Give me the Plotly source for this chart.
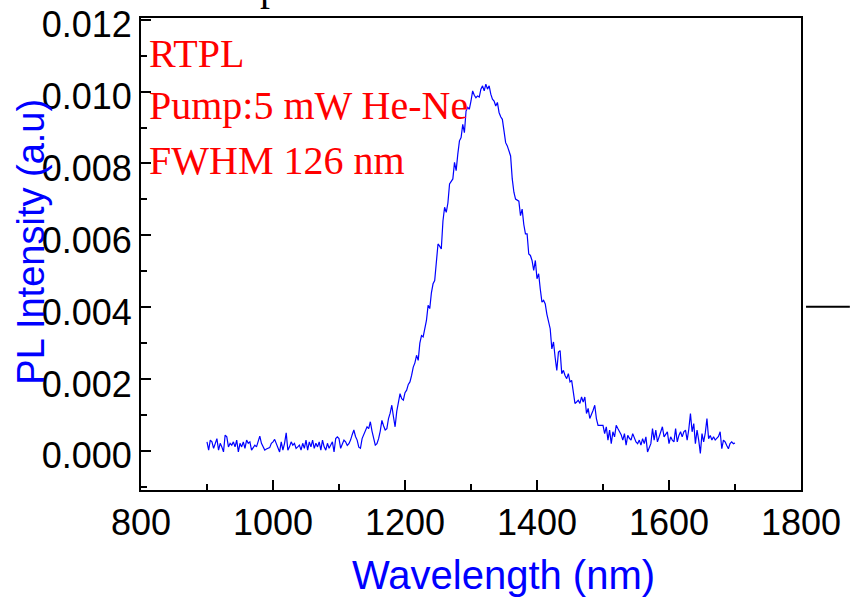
import plotly.graph_objects as go

# Wavelength samples (nm)
wavelength = [
    900, 902.5, 905, 907.5, 910, 912.5, 915, 917.5, 920, 922.5,
    925, 927.5, 930, 932.5, 935, 937.5, 940, 942.5, 945, 947.5,
    950, 952.5, 955, 957.5, 960, 962.5, 965, 967.5, 970, 972.5,
    975, 977.5, 980, 982.5, 985, 987.5, 990, 992.5, 995, 997.5,
    1000, 1002.5, 1005, 1007.5, 1010, 1012.5, 1015, 1017.5, 1020, 1022.5,
    1025, 1027.5, 1030, 1032.5, 1035, 1037.5, 1040, 1042.5, 1045, 1047.5,
    1050, 1052.5, 1055, 1057.5, 1060, 1062.5, 1065, 1067.5, 1070, 1072.5,
    1075, 1077.5, 1080, 1082.5, 1085, 1087.5, 1090, 1092.5, 1095, 1097.5,
    1100, 1102.5, 1105, 1107.5, 1110, 1112.5, 1115, 1117.5, 1120, 1122.5,
    1125, 1127.5, 1130, 1132.5, 1135, 1137.5, 1140, 1142.5, 1145, 1147.5,
    1150, 1152.5, 1155, 1157.5, 1160, 1162.5, 1165, 1167.5, 1170, 1172.5,
    1175, 1177.5, 1180, 1182.5, 1185, 1187.5, 1190, 1192.5, 1195, 1197.5,
    1200, 1202.5, 1205, 1207.5, 1210, 1212.5, 1215, 1217.5, 1220, 1222.5,
    1225, 1227.5, 1230, 1232.5, 1235, 1237.5, 1240, 1242.5, 1245, 1247.5,
    1250, 1252.5, 1255, 1257.5, 1260, 1262.5, 1265, 1267.5, 1270, 1272.5,
    1275, 1277.5, 1280, 1282.5, 1285, 1287.5, 1290, 1292.5, 1295, 1297.5,
    1300, 1302.5, 1305, 1307.5, 1310, 1312.5, 1315, 1317.5, 1320, 1322.5,
    1325, 1327.5, 1330, 1332.5, 1335, 1337.5, 1340, 1342.5, 1345, 1347.5,
    1350, 1352.5, 1355, 1357.5, 1360, 1362.5, 1365, 1367.5, 1370, 1372.5,
    1375, 1377.5, 1380, 1382.5, 1385, 1387.5, 1390, 1392.5, 1395, 1397.5,
    1400, 1402.5, 1405, 1407.5, 1410, 1412.5, 1415, 1417.5, 1420, 1422.5,
    1425, 1427.5, 1430, 1432.5, 1435, 1437.5, 1440, 1442.5, 1445, 1447.5,
    1450, 1452.5, 1455, 1457.5, 1460, 1462.5, 1465, 1467.5, 1470, 1472.5,
    1475, 1477.5, 1480, 1482.5, 1485, 1487.5, 1490, 1492.5, 1495, 1497.5,
    1500, 1502.5, 1505, 1507.5, 1510, 1512.5, 1515, 1517.5, 1520, 1522.5,
    1525, 1527.5, 1530, 1532.5, 1535, 1537.5, 1540, 1542.5, 1545, 1547.5,
    1550, 1552.5, 1555, 1557.5, 1560, 1562.5, 1565, 1567.5, 1570, 1572.5,
    1575, 1577.5, 1580, 1582.5, 1585, 1587.5, 1590, 1592.5, 1595, 1597.5,
    1600, 1602.5, 1605, 1607.5, 1610, 1612.5, 1615, 1617.5, 1620, 1622.5,
    1625, 1627.5, 1630, 1632.5, 1635, 1637.5, 1640, 1642.5, 1645, 1647.5,
    1650, 1652.5, 1655, 1657.5, 1660, 1662.5, 1665, 1667.5, 1670, 1672.5,
    1675, 1677.5, 1680, 1682.5, 1685, 1687.5, 1690, 1692.5, 1695, 1697.5,
    1700,
]

# PL intensity (a.u.)
intensity = [
    0.00025, 0.00002, 0.00030, 0.00025, 0.00007, 0.00021, 0.00034, 0.00002, 0.00021, 0.00011,
    -0.00003, 0.00044, 0.00039, 0.00011, 0.00021, 0.00016, 0.00025, 0.00011, 0.00030, -0.00003,
    0.00021, 0.00011, 0.00025, 0.00007, 0.00030, 0.00021, 0.00025, 0.00002, 0.00011, 0.00016,
    0.00011, 0.00030, 0.00041, 0.00021, 0.00011, 0.00002, 0.00005, 0.00007, 0.00009, 0.00021,
    0.00025, 0.00032, 0.00021, 0.00011, -0.00003, 0.00025, 0.00002, 0.00021, 0.00050, 0.00002,
    0.00011, 0.00025, 0.00016, 0.00021, 0.00007, 0.00011, 0.00016, 0.00002, 0.00021, 0.00007,
    0.00030, 0.00002, 0.00025, 0.00011, 0.00030, 0.00007, 0.00021, 0.00011, 0.00025, 0.00002,
    0.00030, 0.00011, 0.00002, 0.00021, 0.00007, 0.00016, 0.00025, -0.00003, 0.00034, 0.00039,
    0.00034, 0.00007, 0.00020, 0.00030, 0.00025, 0.00015, 0.00020, 0.00030, 0.00045, 0.00058,
    0.00040, 0.00030, 0.00010, 0.00007, 0.00034, 0.00045, 0.00055, 0.00067, 0.00062, 0.00081,
    0.00055, 0.00030, 0.00016, 0.00020, 0.00034, 0.00055, 0.00085, 0.00070, 0.00058, 0.00062,
    0.00090, 0.00105, 0.00127, 0.00095, 0.00067, 0.00110, 0.00132, 0.00159, 0.00145, 0.00141,
    0.00162, 0.00169, 0.00185, 0.00192, 0.00210, 0.00233, 0.00245, 0.00266, 0.00252, 0.00300,
    0.00321, 0.00317, 0.00340, 0.00363, 0.00405, 0.00396, 0.00440, 0.00465, 0.00474, 0.00530,
    0.00576, 0.00570, 0.00562, 0.00640, 0.00678, 0.00664, 0.00690, 0.00743, 0.00750, 0.00757,
    0.00803, 0.00780, 0.00826, 0.00863, 0.00872, 0.00909, 0.00886, 0.00946, 0.00956, 0.00951,
    0.00974, 0.01002, 0.00990, 0.00983, 0.00988, 0.00985, 0.01007, 0.01016, 0.01002, 0.01021,
    0.01007, 0.01016, 0.00993, 0.00979, 0.00974, 0.00960, 0.00970, 0.00942, 0.00930, 0.00923,
    0.00891, 0.00858, 0.00849, 0.00831, 0.00821, 0.00757, 0.00720, 0.00701, 0.00697, 0.00695,
    0.00655, 0.00673, 0.00630, 0.00604, 0.00604, 0.00548, 0.00544, 0.00530, 0.00502, 0.00530,
    0.00479, 0.00493, 0.00450, 0.00414, 0.00419, 0.00409, 0.00380, 0.00354, 0.00340, 0.00284,
    0.00303, 0.00260, 0.00224, 0.00275, 0.00279, 0.00215, 0.00224, 0.00210, 0.00201, 0.00215,
    0.00192, 0.00196, 0.00160, 0.00132, 0.00136, 0.00141, 0.00132, 0.00150, 0.00136, 0.00150,
    0.00104, 0.00118, 0.00090, 0.00105, 0.00113, 0.00127, 0.00090, 0.00071, 0.00071, 0.00070,
    0.00071, 0.00048, 0.00067, 0.00030, 0.000575, 0.00020, 0.00053, 0.00039, 0.00071, 0.00062,
    0.00053, 0.00045, 0.00030, 0.00048, 0.00016, 0.00043, 0.00035, 0.00030, 0.00048, 0.00034,
    0.00025, 0.00020, 0.00030, 0.00016, 0.00034, 0.00020, 0.00039, -0.00003, 0.00010, 0.00020,
    0.00062, 0.00030, 0.000575, 0.00025, 0.00039, 0.00053, 0.00067, 0.00039, 0.00045, 0.00053,
    0.00020, 0.00039, 0.00030, 0.00025, 0.00062, 0.00025, 0.00043, 0.00053, 0.00039, 0.00053,
    0.000575, 0.00030, 0.00060, 0.00104, 0.00053, 0.00076, 0.00020, 0.000575, 0.00030, -0.00007,
    0.00048, 0.00025, 0.00050, 0.00090, 0.00034, 0.00043, 0.00030, 0.00039, 0.00030, 0.00034,
    0.00040, 0.00053, 0.00006, 0.00030, 0.00025, 0.00015, 0.00006, 0.00020, 0.00025, 0.00020,
    0.00022,
]

x_tick_values = [800, 1000, 1200, 1400, 1600, 1800]
y_tick_values = [0.000, 0.002, 0.004, 0.006, 0.008, 0.010, 0.012]
y_tick_labels = ["0.000", "0.002", "0.004", "0.006", "0.008", "0.010", "0.012"]

info_lines = ["RTPL", "Pump:5 mW He-Ne", "FWHM 126 nm"]

SANS = "Arial, Liberation Sans, sans-serif"
SERIF = "Times New Roman, Liberation Serif, serif"

fig = go.Figure()
fig.add_trace(go.Scatter(
    x=wavelength, y=intensity, mode="lines",
    line=dict(color="#0000ff", width=1.2),
    showlegend=False, hoverinfo="x+y",
))

axis_common = dict(
    showline=True, linecolor="black", linewidth=2, mirror=True,
    showgrid=False, zeroline=False, automargin=False,
    ticks="inside", ticklen=10, tickwidth=1.5, tickcolor="black",
    tickfont=dict(family=SANS, size=36, color="black"),
)

fig.update_xaxes(
    range=[800, 1800], tickmode="array", tickvals=x_tick_values,
    minor=dict(ticks="inside", ticklen=6, tickwidth=1.5, tickcolor="black", dtick=100, tick0=800, showgrid=False),
    **axis_common,
)
fig.update_yaxes(
    range=[-0.00109, 0.01205], tickmode="array", tickvals=y_tick_values, ticktext=y_tick_labels,
    minor=dict(ticks="inside", ticklen=6, tickwidth=1.5, tickcolor="black", dtick=0.001, tick0=0, showgrid=False),
    ticklabelshift=5, ticklabeloverflow="allow",
    **axis_common,
)

annotations = []
for text, ypos in zip(info_lines, [0.924, 0.8136, 0.699]):
    annotations.append(dict(
        text=text, xref="paper", yref="paper", x=0.009, y=ypos,
        xanchor="left", yanchor="middle", showarrow=False,
        font=dict(family=SERIF, size=40, color="red"),
    ))
annotations.append(dict(
    text="Wavelength (nm)", xref="paper", yref="paper", x=0.5485, y=-0.180,
    xanchor="center", yanchor="middle", showarrow=False,
    font=dict(family=SANS, size=40, color="#0000ff"),
))
annotations.append(dict(
    text="PL Intensity (a.u)", xref="paper", yref="paper", x=-0.1667, y=0.526,
    xanchor="center", yanchor="middle", showarrow=False, textangle=-90,
    font=dict(family=SANS, size=38, color="#0000ff"),
))
# clipped fragment of a title above the frame
annotations.append(dict(
    text="p", xref="paper", yref="paper", x=0.196, y=1.066,
    xanchor="center", yanchor="middle", showarrow=False,
    font=dict(family=SERIF, size=40, color="black"),
))

fig.update_layout(
    width=850, height=597,
    margin=dict(l=141, r=49, t=18, b=107),
    paper_bgcolor="white", plot_bgcolor="white",
    annotations=annotations,
    shapes=[dict(type="line", xref="paper", yref="paper", x0=1.0076, x1=1.074, y0=0.388, y1=0.388,
                 line=dict(color="black", width=2))],
)

assert len(wavelength) == len(intensity)
fig.write_html(
    "out.html",
    config={"displayModeBar": False},
    post_script="document.body.style.margin='0px';document.body.style.overflow='hidden';",
)
